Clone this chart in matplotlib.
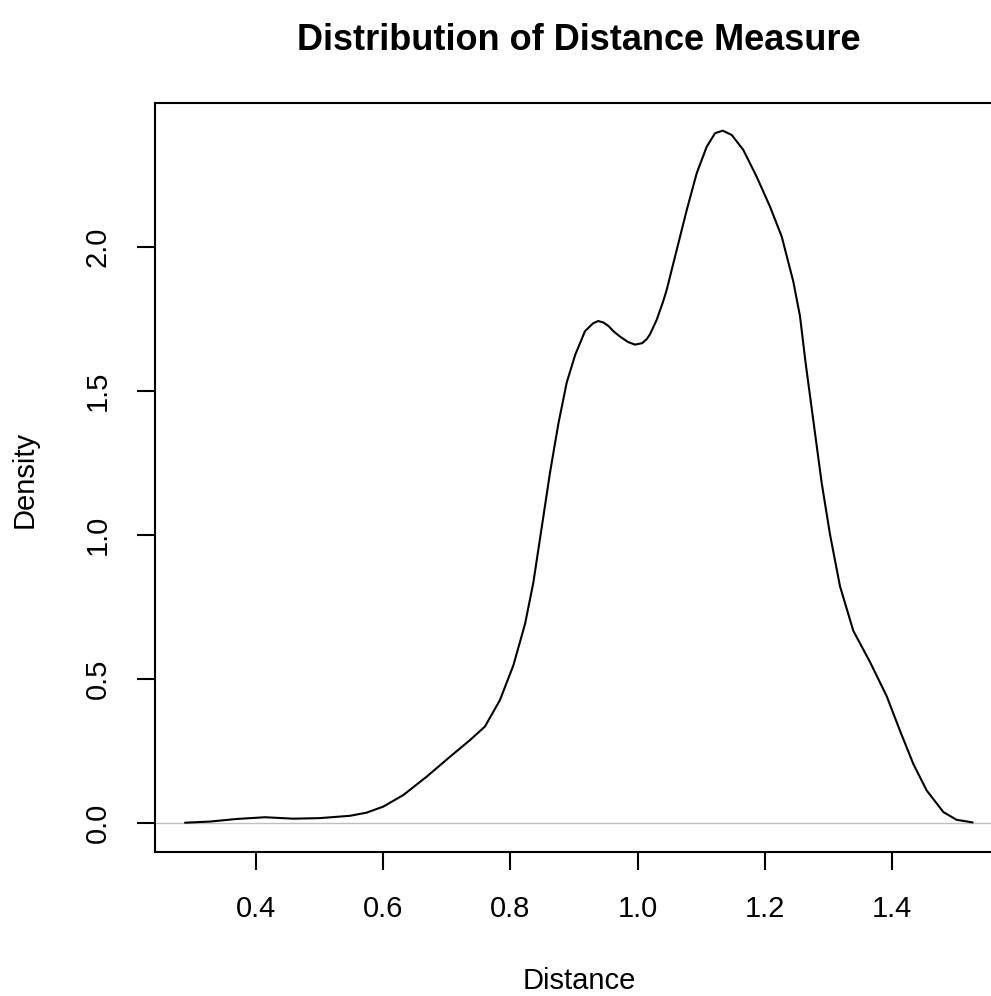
import matplotlib
matplotlib.use("Agg")
import matplotlib.pyplot as plt

plt.rcParams['font.family'] = ['Liberation Sans', 'DejaVu Sans']

distance = [0.2884, 0.3277, 0.3697, 0.4142, 0.4587, 0.5006, 0.5478, 0.5740, 0.6002, 0.6316,
            0.6684, 0.7050, 0.7365, 0.7600, 0.7836, 0.8046, 0.8230, 0.8360, 0.8492, 0.8623,
            0.8753, 0.8885, 0.9016, 0.9173, 0.9300, 0.9380, 0.9460, 0.9540, 0.9618, 0.9723,
            0.9850, 0.9959, 1.0070, 1.0143, 1.0195, 1.0300, 1.0400, 1.0457, 1.0615, 1.0772,
            1.0929, 1.1086, 1.1217, 1.1338, 1.1480, 1.1662, 1.1872, 1.2082, 1.2266, 1.2448,
            1.2553, 1.2640, 1.2763, 1.2894, 1.3025, 1.3182, 1.3392, 1.3654, 1.3917, 1.4126,
            1.4335, 1.4545, 1.4807, 1.5016, 1.5267]
density = [0.001, 0.005, 0.014, 0.020, 0.015, 0.017, 0.025, 0.036, 0.057, 0.097,
           0.161, 0.230, 0.288, 0.335, 0.427, 0.547, 0.691, 0.834, 1.026, 1.217,
           1.385, 1.529, 1.624, 1.708, 1.735, 1.743, 1.738, 1.726, 1.708, 1.689,
           1.670, 1.661, 1.666, 1.680, 1.697, 1.747, 1.810, 1.851, 1.990, 2.128,
           2.256, 2.348, 2.395, 2.404, 2.389, 2.337, 2.244, 2.140, 2.036, 1.880,
           1.760, 1.600, 1.397, 1.181, 1.002, 0.822, 0.667, 0.559, 0.440, 0.320,
           0.205, 0.113, 0.038, 0.011, 0.002]
x_ticks = [0.4, 0.6, 0.8, 1.0, 1.2, 1.4]
x_ticklabels = ["0.4", "0.6", "0.8", "1.0", "1.2", "1.4"]
y_ticks = [0.0, 0.5, 1.0, 1.5, 2.0]
y_ticklabels = ["0.0", "0.5", "1.0", "1.5", "2.0"]

W, H = 991, 996
fig = plt.figure(figsize=(W / 100, H / 100), dpi=100)
L, R, B, T = 155, 1003, 852, 103
ax = fig.add_axes([L / W, (H - B) / H, (R - L) / W, (B - T) / H])

ax.axhline(0, color="#bebebe", lw=1.0, zorder=1)
ax.plot(distance, density, color="black", lw=1.5, zorder=2,
        solid_capstyle="round", solid_joinstyle="round")

ax.set_xlim(0.2412, 1.5745)
ax.set_ylim(-0.1007, 2.5)

for s in ax.spines.values():
    s.set_linewidth(1.5)

ax.set_xticks(x_ticks)
ax.set_xticklabels(x_ticklabels)
ax.set_yticks(y_ticks)
ax.set_yticklabels(y_ticklabels, rotation=90, va="center")
ax.tick_params(axis="both", direction="out", length=13, width=1.5, labelsize=21)
ax.tick_params(axis="x", pad=18)
ax.tick_params(axis="y", pad=18)

fig.text(579 / W, 1 - 40 / H, "Distribution of Distance Measure", ha="center", va="center",
         fontsize=26, fontweight="bold")
fig.text(579 / W, 1 - 981 / H, "Distance", ha="center", va="center", fontsize=21)
fig.text(25 / W, 1 - 479 / H, "Density", ha="center", va="center", fontsize=21, rotation=90)

fig.savefig("out.png", dpi=100)
